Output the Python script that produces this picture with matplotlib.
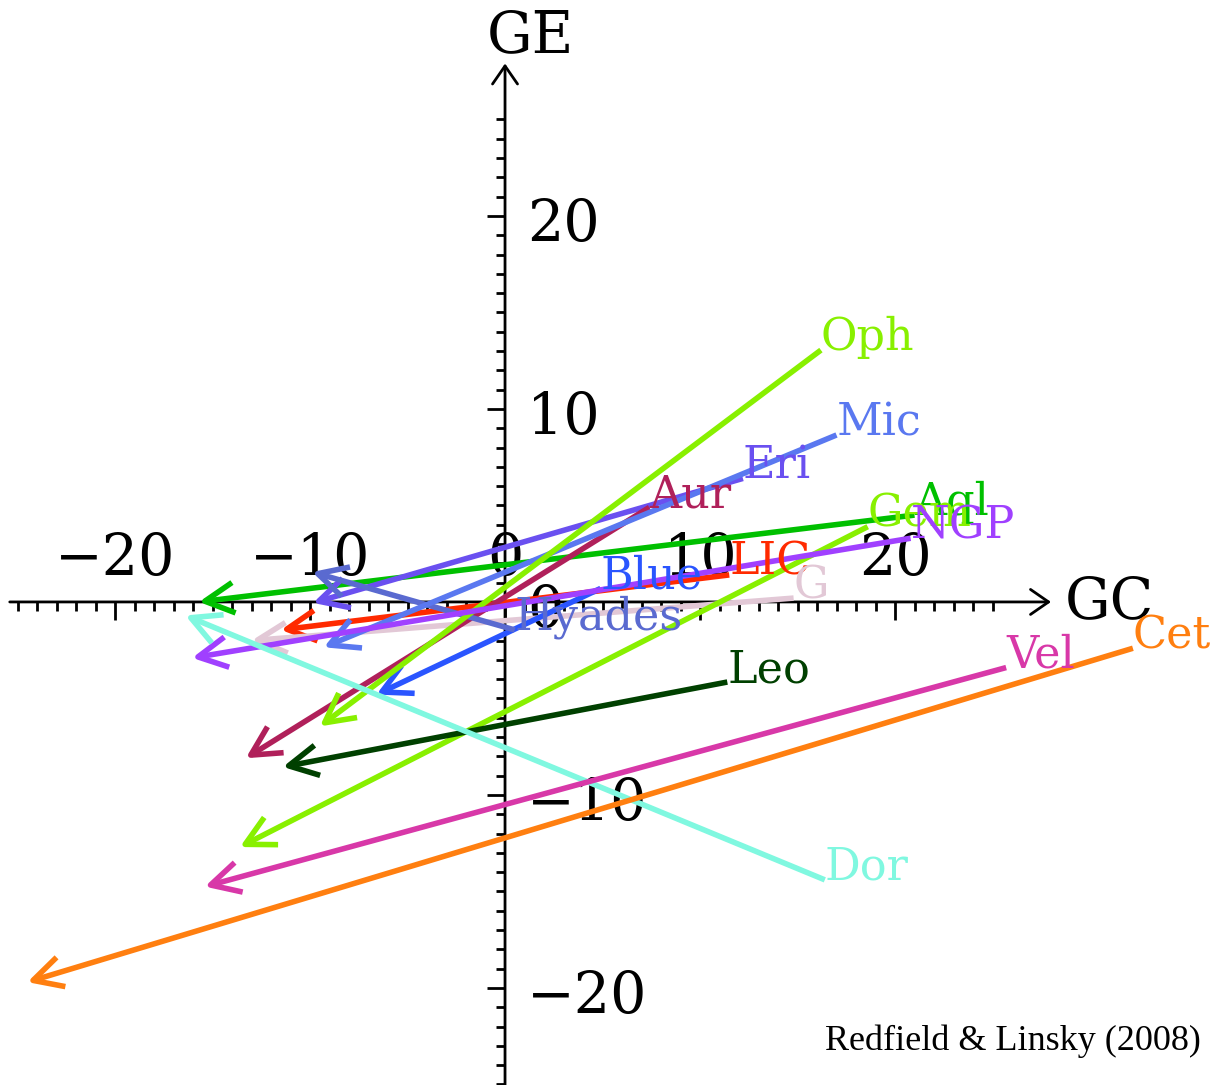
import numpy as np
import matplotlib.pyplot as plt
from matplotlib.patches import FancyArrowPatch
from matplotlib.transforms import offset_copy

# cloud velocity vectors (tail -> arrow head), in GC / GE
names = ['LIC', 'G', 'Blue', 'Aql', 'Eri', 'Aur', 'Hyades', 'Mic',
         'Oph', 'Gem', 'NGP', 'Leo', 'Dor', 'Vel', 'Cet']
x_tail = [11.5, 14.8, 4.9, 21.0, 12.2, 7.4, 0.5, 17.0,
          16.2, 18.6, 20.8, 11.4, 16.4, 25.7, 32.2]
y_tail = [1.4, 0.2, 0.7, 4.5, 6.4, 4.9, -1.45, 8.65,
          13.05, 3.9, 3.3, -4.15, -14.4, -3.4, -2.4]
x_head = [-11.5, -13.0, -6.6, -15.7, -9.85, -13.3, -9.9, -9.3,
          -9.5, -13.6, -16.05, -11.4, -16.4, -15.4, -24.5]
y_head = [-1.45, -2.0, -4.8, 0.0, -0.05, -8.1, 1.55, -2.35,
          -6.45, -12.7, -2.9, -8.55, -0.7, -14.75, -19.7]
colors = ['#ff2a00', '#e2c8d6', '#2a55ff', '#00c000', '#6a50f0', '#b0205a',
          '#5a6ad0', '#5a78f0', '#88f000', '#88f000', '#a040ff', '#004000',
          '#80f8e0', '#d838a8', '#ff7f10']

xticks = [-20, -10, 0, 10, 20]
yticks = [-20, -10, 0, 10, 20]

fig = plt.figure(figsize=(12.3, 10.85), dpi=100)
ax = fig.add_axes([0, 0, 1, 1])
ax.set_xlim(-25.9, 37.18)
ax.set_ylim(-25.03, 31.19)

for s in ['top', 'right', 'left', 'bottom']:
    ax.spines[s].set_visible(False)
ax.spines['left'].set_position(('data', 0))
ax.spines['bottom'].set_position(('data', 0))

ax.set_xticks(xticks)
ax.set_yticks(yticks)
ax.set_xticks(np.arange(-25, 26, 1), minor=True)
ax.set_yticks(np.arange(-25, 26, 1), minor=True)
ax.tick_params(which='major', direction='out', length=13, width=2, color='black',
               labelbottom=False, labelleft=False)
ax.tick_params(which='minor', direction='out', length=6.5, width=2, color='black')

# axis lines with open arrow heads
ax.add_patch(FancyArrowPatch((-25.4, 0), (28.0, 0), arrowstyle='->,head_length=13,head_width=9',
                             lw=2, color='black', shrinkA=0, shrinkB=0, zorder=3))
ax.add_patch(FancyArrowPatch((0, -25.5), (0, 27.9), arrowstyle='->,head_length=13,head_width=9',
                             lw=2, color='black', shrinkA=0, shrinkB=0, zorder=3))

tfont = dict(family='DejaVu Serif', size=41, color='black')
for v in xticks:
    lab = str(v).replace('-', '\u2212')
    tr = offset_copy(ax.transData, fig=fig, x=0, y=27, units='dots')
    ax.text(v, 0, lab, transform=tr, ha='center', va='baseline', **tfont)
for v in yticks:
    lab = str(v).replace('-', '\u2212')
    tr = offset_copy(ax.transData, fig=fig, x=22, y=-25, units='dots')
    ax.text(0, v, lab, transform=tr, ha='left', va='baseline', **tfont)

ax.text(28.7, 0, 'GC', ha='left', va='center', **tfont)
ax.text(1.3, 29.3, 'GE', ha='center', va='center', **tfont)

for n, xt, yt, xh, yh, c in zip(names, x_tail, y_tail, x_head, y_head, colors):
    ax.add_patch(FancyArrowPatch((xt, yt), (xh, yh),
                                 arrowstyle='->,head_length=21,head_width=11',
                                 lw=4, color=c, shrinkA=0, shrinkB=0, zorder=4,
                                 capstyle='butt'))
    ax.text(xt, yt, n, color=c, family='DejaVu Serif', size=32,
            ha='left', va='baseline', zorder=5)

fig.text(825 / 1230, 1 - 1050 / 1085, 'Redfield & Linsky (2008)',
         family='Liberation Serif', size=26, ha='left', va='baseline')

fig.savefig('out.png', dpi=100)
